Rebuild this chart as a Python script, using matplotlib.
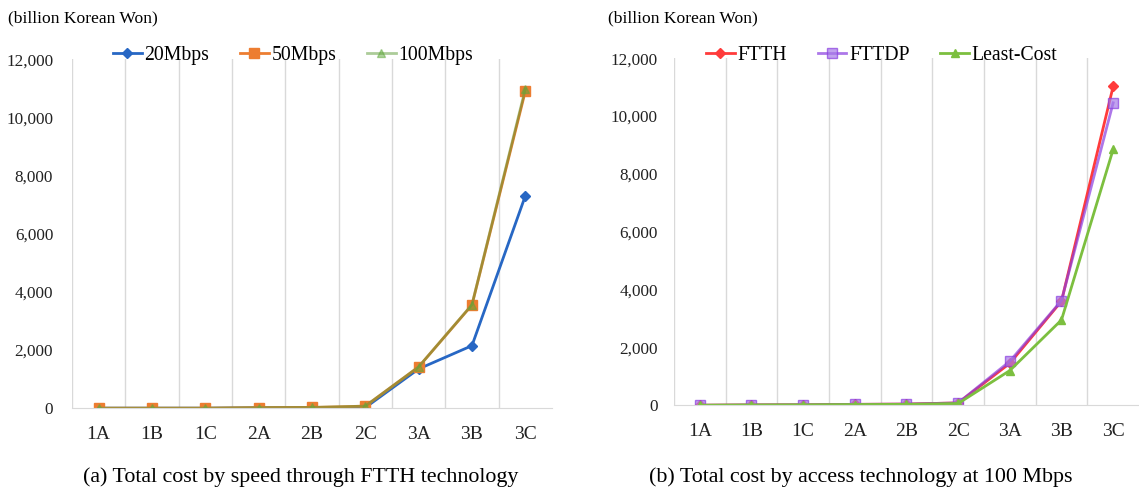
import matplotlib.pyplot as plt
from matplotlib.ticker import FuncFormatter, FixedLocator

plt.rcParams['font.family'] = ['Liberation Serif', 'DejaVu Serif']

regions = ['1A', '1B', '1C', '2A', '2B', '2C', '3A', '3B', '3C']

# (a) total cost by speed, FTTH
speed_20 = [0, 0, 0, 10, 15, 20, 1350, 2150, 7300]
speed_50 = [0, 0, 0, 20, 25, 70, 1420, 3550, 10900]
speed_100 = [0, 0, 0, 20, 25, 70, 1420, 3560, 10980]

# (b) total cost by access technology, 100 Mbps
ftth = [0, 10, 15, 30, 40, 80, 1450, 3600, 11030]
fttdp = [0, 10, 15, 30, 40, 80, 1520, 3620, 10460]
least_cost = [0, 10, 15, 25, 30, 60, 1200, 2950, 8850]

fig = plt.figure(figsize=(11.39, 4.9), dpi=100)
ax1 = fig.add_axes([0.0632, 0.167, 0.4214, 0.712])
ax2 = fig.add_axes([0.5917, 0.173, 0.4083, 0.708])

fmt = FuncFormatter(lambda v, p: f'{int(v):,}')
x = range(len(regions))


def style(ax, ypad):
    ax.set_xlim(-0.5, 8.5)
    ax.set_ylim(0, 12000)
    ax.set_yticks(range(0, 12001, 2000))
    ax.yaxis.set_major_formatter(fmt)
    ax.set_xticks(list(x))
    ax.set_xticklabels(regions)
    ax.xaxis.set_minor_locator(FixedLocator([i - 0.5 for i in range(9)]))
    ax.grid(True, which='minor', axis='x', color='#d9d9d9', lw=1)
    ax.tick_params(which='both', length=0)
    ax.tick_params(axis='x', labelsize=14, pad=13, colors='#222222')
    ax.tick_params(axis='y', labelsize=12.3, pad=ypad, colors='#222222')
    for s in ['left', 'right', 'top']:
        ax.spines[s].set_visible(False)
    ax.spines['bottom'].set_color('#d9d9d9')


def add_legend(ax, x0):
    ax.legend(ncol=3, loc='center left', bbox_to_anchor=(x0, 0.886),
              bbox_transform=fig.transFigure, frameon=False, borderpad=0,
              borderaxespad=0, fontsize=14.2, handlelength=1.45,
              handletextpad=0.15, columnspacing=1.55)


ax1.plot(x, speed_20, color='#2767c4', lw=2, marker='D', ms=5, label='20Mbps')
ax1.plot(x, speed_50, color='#ed7d31', lw=2, marker='s', ms=7, label='50Mbps')
ax1.plot(x, speed_100, color='#5a9a35', lw=2, alpha=0.5, marker='^', ms=6,
         markerfacecolor='#5fa83a', markeredgecolor='#5fa83a', label='100Mbps')
style(ax1, 13.5)
add_legend(ax1, 113 / 1139)

ax2.plot(x, ftth, color='#ff3b3b', lw=2, marker='D', ms=5, label='FTTH')
ax2.plot(x, fttdp, color='#8a3ee0', lw=2, alpha=0.7, marker='s', ms=7,
         markerfacecolor='#a77be8', markeredgecolor='#8a3ee0', label='FTTDP')
ax2.plot(x, least_cost, color='#7cbf3f', lw=2, marker='^', ms=6, label='Least-Cost')
style(ax2, 11.5)
add_legend(ax2, 706 / 1139)

fig.text(0.007, 0.963, '(billion Korean Won)', fontsize=12.6, va='center')
fig.text(0.534, 0.963, '(billion Korean Won)', fontsize=12.6, va='center')
fig.text(0.264, 0.026, '(a) Total cost by speed through FTTH technology', fontsize=15.8,
         ha='center', va='center')
fig.text(0.756, 0.026, '(b) Total cost by access technology at 100 Mbps', fontsize=15.8,
         ha='center', va='center')

fig.savefig('out.png', dpi=100)
